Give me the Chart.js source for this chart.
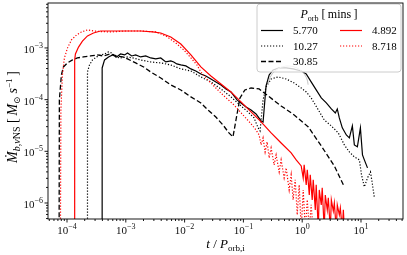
<!DOCTYPE html>
<html><head><meta charset="utf-8">
<script src="https://cdn.jsdelivr.net/npm/chart.js@4/dist/chart.umd.min.js"></script>
<style>html,body{margin:0;padding:0;background:#fff;}canvas{display:block;}</style>
</head><body>
<canvas id="c" width="407" height="255"></canvas>
<script>
// ---- data (t / P_orb,i , Mdot in Msun/s) ----
const t5770 = [3.94e-4,3.96e-4,4.35e-4,5.08e-4,5.95e-4,6.97e-4,8.15e-4,9.55e-4,1.07e-3,1.26e-3,1.47e-3,1.79e-3,2.18e-3,2.65e-3,3.23e-3,3.93e-3,4.78e-3,5.82e-3,6.54e-3,7.37e-3,8.62e-3,1.05e-2,1.28e-2,1.55e-2,1.89e-2,2.30e-2,2.80e-2,3.40e-2,4.15e-2,5.05e-2,6.14e-2,7.78e-2,9.10e-2,0.111,0.135,0.164,0.200,0.216,0.243,0.274,0.320,0.406,0.533,0.701,0.962,1.17,1.42,1.73,2.11,2.57,3.13,3.66,3.95,4.28,4.81,5.63,6.34,7.13,7.71,8.68,9.77,10.6,11.4,12.9];
const m5770 = [1e-7,4.1e-4,5.86e-4,6.70e-4,7.32e-4,6.70e-4,7.66e-4,7.32e-4,8.0e-4,7.0e-4,7.32e-4,6.7e-4,7.0e-4,6.41e-4,6.13e-4,6.41e-4,5.36e-4,5.61e-4,5.36e-4,4.91e-4,4.69e-4,4.49e-4,3.93e-4,3.59e-4,3.14e-4,2.87e-4,2.51e-4,2.20e-4,1.92e-4,1.61e-4,1.41e-4,9.87e-5,8.63e-5,7.22e-5,6.32e-5,5.29e-5,3.87e-5,3.70e-5,1.84e-4,3.00e-4,3.75e-4,4.10e-4,4.10e-4,3.93e-4,3.59e-4,3.14e-4,2.20e-4,1.54e-4,1.08e-4,8.63e-5,6.61e-5,5.53e-5,6.61e-5,4.43e-5,2.84e-5,2.07e-5,1.82e-5,3.10e-5,1.33e-5,1.22e-5,2.84e-5,8.51e-6,6.82e-6,4.78e-6];

const t1027 = [2.23e-4,2.23e-4,2.41e-4,2.71e-4,3.17e-4,3.72e-4,4.35e-4,5.08e-4,5.72e-4,6.70e-4,8.15e-4,1.03e-3,1.31e-3,1.79e-3,2.65e-3,3.93e-3,5.82e-3,8.62e-3,1.28e-2,1.89e-2,2.80e-2,4.15e-2,6.14e-2,9.10e-2,0.120,0.152,0.178,0.192,0.216,0.243,0.296,0.389,0.533,0.730,0.962,1.17,1.42,1.88,2.37,3.13,4.11,5.21,6.34,7.71,9.39,10.2,11.4,12.9,14.5,15.7,16.9];
const m1027 = [1e-7,3.43e-4,4.69e-4,5.86e-4,6.70e-4,7.32e-4,7.66e-4,8.37e-4,8.0e-4,6.7e-4,6.41e-4,6.7e-4,6.41e-4,5.86e-4,5.36e-4,5.13e-4,4.69e-4,3.93e-4,3.59e-4,2.75e-4,2.20e-4,1.61e-4,1.13e-4,7.55e-5,5.78e-5,4.43e-5,2.84e-5,2.48e-5,9.87e-5,1.76e-4,2.51e-4,2.75e-4,2.51e-4,2.10e-4,1.68e-4,1.41e-4,1.08e-4,6.32e-5,4.05e-5,3.10e-5,2.27e-5,1.33e-5,9.72e-6,7.79e-6,6.82e-6,3.50e-6,2.05e-6,3.06e-6,4.0e-6,2.24e-6,1.26e-6];

const t3085 = [7.33e-5,7.41e-5,8.02e-5,8.69e-5,1.02e-4,1.24e-4,1.50e-4,1.90e-4,2.51e-4,3.30e-4,4.18e-4,5.50e-4,6.97e-4,8.82e-4,1.07e-3,1.47e-3,2.01e-3,2.65e-3,3.93e-3,5.82e-3,8.62e-3,1.28e-2,1.89e-2,2.49e-2,3.40e-2,4.49e-2,5.68e-2,6.65e-2,7.48e-2,8.75e-2,0.106,0.135,0.185,0.263,0.438,0.730,1.27,2.11,3.52,5.21];
const m3085 = [1e-7,9.87e-5,3.0e-4,4.29e-4,5.13e-4,5.86e-4,6.41e-4,6.70e-4,7.0e-4,7.32e-4,7.0e-4,7.66e-4,7.0e-4,6.7e-4,6.13e-4,5.13e-4,4.29e-4,3.43e-4,2.63e-4,1.92e-4,1.54e-4,1.13e-4,8.63e-5,6.32e-5,4.62e-5,3.24e-5,2.27e-5,1.90e-5,4.05e-5,1.08e-4,1.54e-4,1.68e-4,1.61e-4,1.18e-4,7.55e-5,5.06e-5,2.96e-5,1.27e-5,5.22e-6,2.05e-6];

const t4892 = [1.35e-4,1.35e-4,1.39e-4,1.57e-4,1.83e-4,2.23e-4,2.82e-4,3.72e-4,5.50e-4,9.93e-4,1.79e-3,2.87e-3,3.93e-3,5.82e-3,8.62e-3,1.28e-2,1.89e-2,2.80e-2,4.15e-2,6.14e-2,9.10e-2,0.135,0.200,0.296,0.438,0.649,0.790,0.962,1.04,1.08,1.17,1.22,1.32,1.37,1.48,1.54,1.67,1.73,1.88,1.95,2.11,2.19,2.37,2.47,2.67,2.78,3.01,3.13,3.38,3.52,3.80,3.95,4.28,4.45,4.81,5.01,5.21];
const m4892 = [1e-7,5.86e-4,7.66e-4,1.04e-3,1.36e-3,1.71e-3,1.95e-3,2.13e-3,2.13e-3,2.13e-3,2.13e-3,2.04e-3,1.95e-3,1.63e-3,1.19e-3,7.32e-4,4.29e-4,2.87e-4,2.01e-4,1.41e-4,9.03e-5,5.78e-5,3.70e-5,2.27e-5,1.45e-5,9.31e-6,6.82e-6,5.22e-6,3.06e-6,5.46e-6,2.24e-6,4.37e-6,1.43e-6,3.50e-6,1.15e-6,2.80e-6,7.36e-7,2.24e-6,3e-7,1.79e-6,9.19e-7,1.96e-6,3e-7,1.43e-6,7.36e-7,1.26e-6,3e-7,1.15e-6,7.0e-7,1.0e-6,3e-7,9.19e-7,5.89e-7,8.0e-7,3e-7,7.36e-7,3e-7];

const t8718 = [7.71e-5,7.87e-5,8.35e-5,9.03e-5,1.02e-4,1.19e-4,1.45e-4,1.76e-4,2.23e-4,2.82e-4,3.72e-4,5.50e-4,9.93e-4,1.79e-3,3.23e-3,4.78e-3,7.08e-3,9.69e-3,1.28e-2,1.62e-2,1.89e-2,2.49e-2,3.40e-2,4.67e-2,6.91e-2,0.102,0.135,0.164,0.185,0.200,0.216,0.234,0.253,0.274,0.296,0.333,0.360,0.406,0.438,0.493,0.533,0.600,0.649,0.701,0.760,0.822,0.889,0.962,1.04,1.13,1.22,1.32,1.42,1.54];
const m8718 = [1e-7,6.32e-5,3.0e-4,6.41e-4,1.0e-3,1.43e-3,1.78e-3,2.04e-3,2.23e-3,2.13e-3,2.08e-3,2.04e-3,2.13e-3,2.13e-3,2.04e-3,1.71e-3,1.25e-3,9.15e-4,6.41e-4,4.69e-4,3.43e-4,2.40e-4,1.68e-4,1.18e-4,7.89e-5,4.84e-5,3.39e-5,2.59e-5,2.07e-5,1.33e-5,1.82e-5,9.72e-6,1.52e-5,7.45e-6,1.16e-5,5.46e-6,8.51e-6,4.0e-6,6.82e-6,3.06e-6,4.78e-6,1.79e-6,3.50e-6,1.15e-6,2.80e-6,5.89e-7,2.24e-6,3e-7,1.79e-6,3e-7,1.15e-6,3e-7,9.19e-7,3e-7];

const seriesLabels = ['5.770','10.27','30.85','4.892','8.718'];
const xTicks = [1e-4,1e-3,1e-2,1e-1,1,10];
const xTickExp = ['\u22124','\u22123','\u22122','\u22121','0','1'];
const yTicks = [1e-6,1e-5,1e-4,1e-3];
const yTickExp = ['\u22126','\u22125','\u22124','\u22123'];
const circleCenter = {t: 0.577, m: 1.84e-4};
const X_MIN = 4.75e-5, X_MAX = 51.8, Y_MIN = 4.9e-7, Y_MAX = 7.41e-3;

const FONT = '"Liberation Serif","DejaVu Serif",serif';
function pairs(ts, ms){ const n=Math.min(ts.length, ms.length); const a=[]; for(let i=0;i<n;i++) a.push({x:ts[i], y:ms[i]}); return a; }

function ds(label, ts, ms, color, dash, width, order){
  return {label, data: pairs(ts, ms), showLine:true, borderColor:color, backgroundColor:color,
    borderWidth:width, borderDash:dash, pointRadius:0, fill:false, order, clip:0, tension:0};
}
const datasets = [
  ds(seriesLabels[0], t5770, m5770, '#000000', [], 1.2, 5),
  ds(seriesLabels[1], t1027, m1027, '#000000', [1.2,1.8], 1.2, 4),
  ds(seriesLabels[2], t3085, m3085, '#000000', [5,2.5], 1.3, 3),
  ds(seriesLabels[3], t4892, m4892, '#ff0000', [], 1.2, 2),
  ds(seriesLabels[4], t8718, m8718, '#ff0000', [1.2,1.8], 1.2, 1),
];

function runsWidth(ctx, runs){
  let w=0; runs.forEach(r=>{ ctx.font=(r.italic?'italic ':'')+r.size+'px '+FONT; r.w=ctx.measureText(r.text).width; w+=r.w; }); return w;
}
function drawRuns(ctx, runs, x, y, align){
  const w = runsWidth(ctx, runs);
  let cx = align==='center' ? x-w/2 : (align==='right' ? x-w : x);
  ctx.textAlign='left'; ctx.textBaseline='alphabetic';
  runs.forEach(r=>{ ctx.font=(r.italic?'italic ':'')+r.size+'px '+FONT; ctx.fillText(r.text, cx, y+(r.dy||0)); cx+=r.w; });
}

const decor = {
  id:'decor',
  afterDraw(chart){
    const ctx = chart.ctx, a = chart.chartArea, xs = chart.scales.x, ys = chart.scales.y;
    ctx.save();
    // annotation circle (upper arc)
    const cx = xs.getPixelForValue(circleCenter.t), cy = ys.getPixelForValue(circleCenter.m);
    ctx.strokeStyle='#c4c4c4'; ctx.lineWidth=1; ctx.setLineDash([]);
    ctx.beginPath(); ctx.arc(cx, cy, 20, Math.PI*1.02, Math.PI*1.98); ctx.stroke();

    // legend
    const lx=257, ly=4, lw=144, lh=68, r=3;
    ctx.beginPath();
    ctx.moveTo(lx+r,ly); ctx.lineTo(lx+lw-r,ly); ctx.quadraticCurveTo(lx+lw,ly,lx+lw,ly+r);
    ctx.lineTo(lx+lw,ly+lh-r); ctx.quadraticCurveTo(lx+lw,ly+lh,lx+lw-r,ly+lh);
    ctx.lineTo(lx+r,ly+lh); ctx.quadraticCurveTo(lx,ly+lh,lx,ly+lh-r);
    ctx.lineTo(lx,ly+r); ctx.quadraticCurveTo(lx,ly,lx+r,ly); ctx.closePath();
    ctx.fillStyle='rgba(255,255,255,0.8)'; ctx.fill();
    ctx.strokeStyle='#cccccc'; ctx.lineWidth=1; ctx.stroke();
    ctx.fillStyle='#000';
    drawRuns(ctx, [{text:'P',size:12,italic:true},{text:'orb',size:8,dy:2.5},{text:' [\u2009mins\u2009]',size:12}], lx+lw/2, 18, 'center');
    const order = [0,1,2,3,4];
    const pos = [[0,0],[0,1],[0,2],[1,0],[1,1]];
    order.forEach((di,k)=>{
      const d = chart.data.datasets[di];
      const col = pos[k][0], row = pos[k][1];
      const hx = col===0 ? 261 : 340, hy = 30.5 + row*15.5;
      ctx.strokeStyle=d.borderColor; ctx.lineWidth=d.borderWidth; ctx.setLineDash(d.borderDash);
      ctx.beginPath(); ctx.moveTo(hx, hy); ctx.lineTo(hx+22, hy); ctx.stroke();
      ctx.setLineDash([]);
      ctx.fillStyle='#000';
      drawRuns(ctx, [{text:d.label,size:11}], hx+32, hy+3.8, 'left');
    });

    // frame
    ctx.setLineDash([]); ctx.strokeStyle='#000'; ctx.lineWidth=0.9;
    ctx.strokeRect(a.left, a.top, a.right-a.left, a.bottom-a.top);
    // ticks
    ctx.lineWidth=0.9;
    for(let e=-5;e<=2;e++){
      for(let k=1;k<=9;k++){
        const v = k*Math.pow(10,e);
        if(v>X_MIN && v<X_MAX){
          const p = xs.getPixelForValue(v), L = k===1?3.5:2;
          ctx.beginPath(); ctx.moveTo(p, a.bottom); ctx.lineTo(p, a.bottom+L); ctx.stroke();
        }
      }
    }
    for(let e=-7;e<=-2;e++){
      for(let k=1;k<=9;k++){
        const v = k*Math.pow(10,e);
        if(v>Y_MIN && v<Y_MAX){
          const p = ys.getPixelForValue(v), L = k===1?3.5:2;
          ctx.beginPath(); ctx.moveTo(a.left, p); ctx.lineTo(a.left-L, p); ctx.stroke();
        }
      }
    }
    // tick labels
    ctx.fillStyle='#111';
    xTicks.forEach((v,i)=>{
      const p = xs.getPixelForValue(v);
      drawRuns(ctx, [{text:'10',size:11},{text:xTickExp[i],size:8,dy:-5}], p, 234, 'center');
    });
    yTicks.forEach((v,i)=>{
      const p = ys.getPixelForValue(v);
      drawRuns(ctx, [{text:'10',size:11},{text:yTickExp[i],size:8,dy:-5}], 43, p+5, 'right');
    });
    // axis titles
    ctx.fillStyle='#000';
    drawRuns(ctx, [{text:'t',size:13,italic:true},{text:' / ',size:13},{text:'P',size:13,italic:true},{text:'orb,i',size:9,dy:3}], (a.left+a.right)/2, 248, 'center');
    ctx.save();
    ctx.translate(17, 117); ctx.rotate(-Math.PI/2);
    drawRuns(ctx, [{text:'\u1E40',size:14,italic:true},{text:'b,\u03BD',size:10,italic:true,dy:3},{text:'NS',size:10,dy:3},
      {text:' [\u2009',size:14},{text:'M',size:14,italic:true},{text:'\u2299',size:9,dy:3},{text:'\u2009s',size:14,italic:true},
      {text:'\u22121',size:9,dy:-5.5},{text:'\u2009]',size:14}], 0, 0, 'center');
    ctx.restore();
    ctx.restore();
  }
};

new Chart(document.getElementById('c'), {
  type:'scatter',
  data:{datasets},
  options:{
    responsive:false, animation:false, devicePixelRatio:1,
    layout:{padding:{top:3,right:4,left:0,bottom:0}},
    plugins:{legend:{display:false}, tooltip:{enabled:false}},
    scales:{
      x:{type:'logarithmic', min:X_MIN, max:X_MAX, grid:{display:false}, border:{display:false}, ticks:{display:false},
         afterFit(s){ s.height = 36; }},
      y:{type:'logarithmic', min:Y_MIN, max:Y_MAX, grid:{display:false}, border:{display:false}, ticks:{display:false},
         afterFit(s){ s.width = 48; }}
    }
  },
  plugins:[decor]
});
</script>
</body></html>
